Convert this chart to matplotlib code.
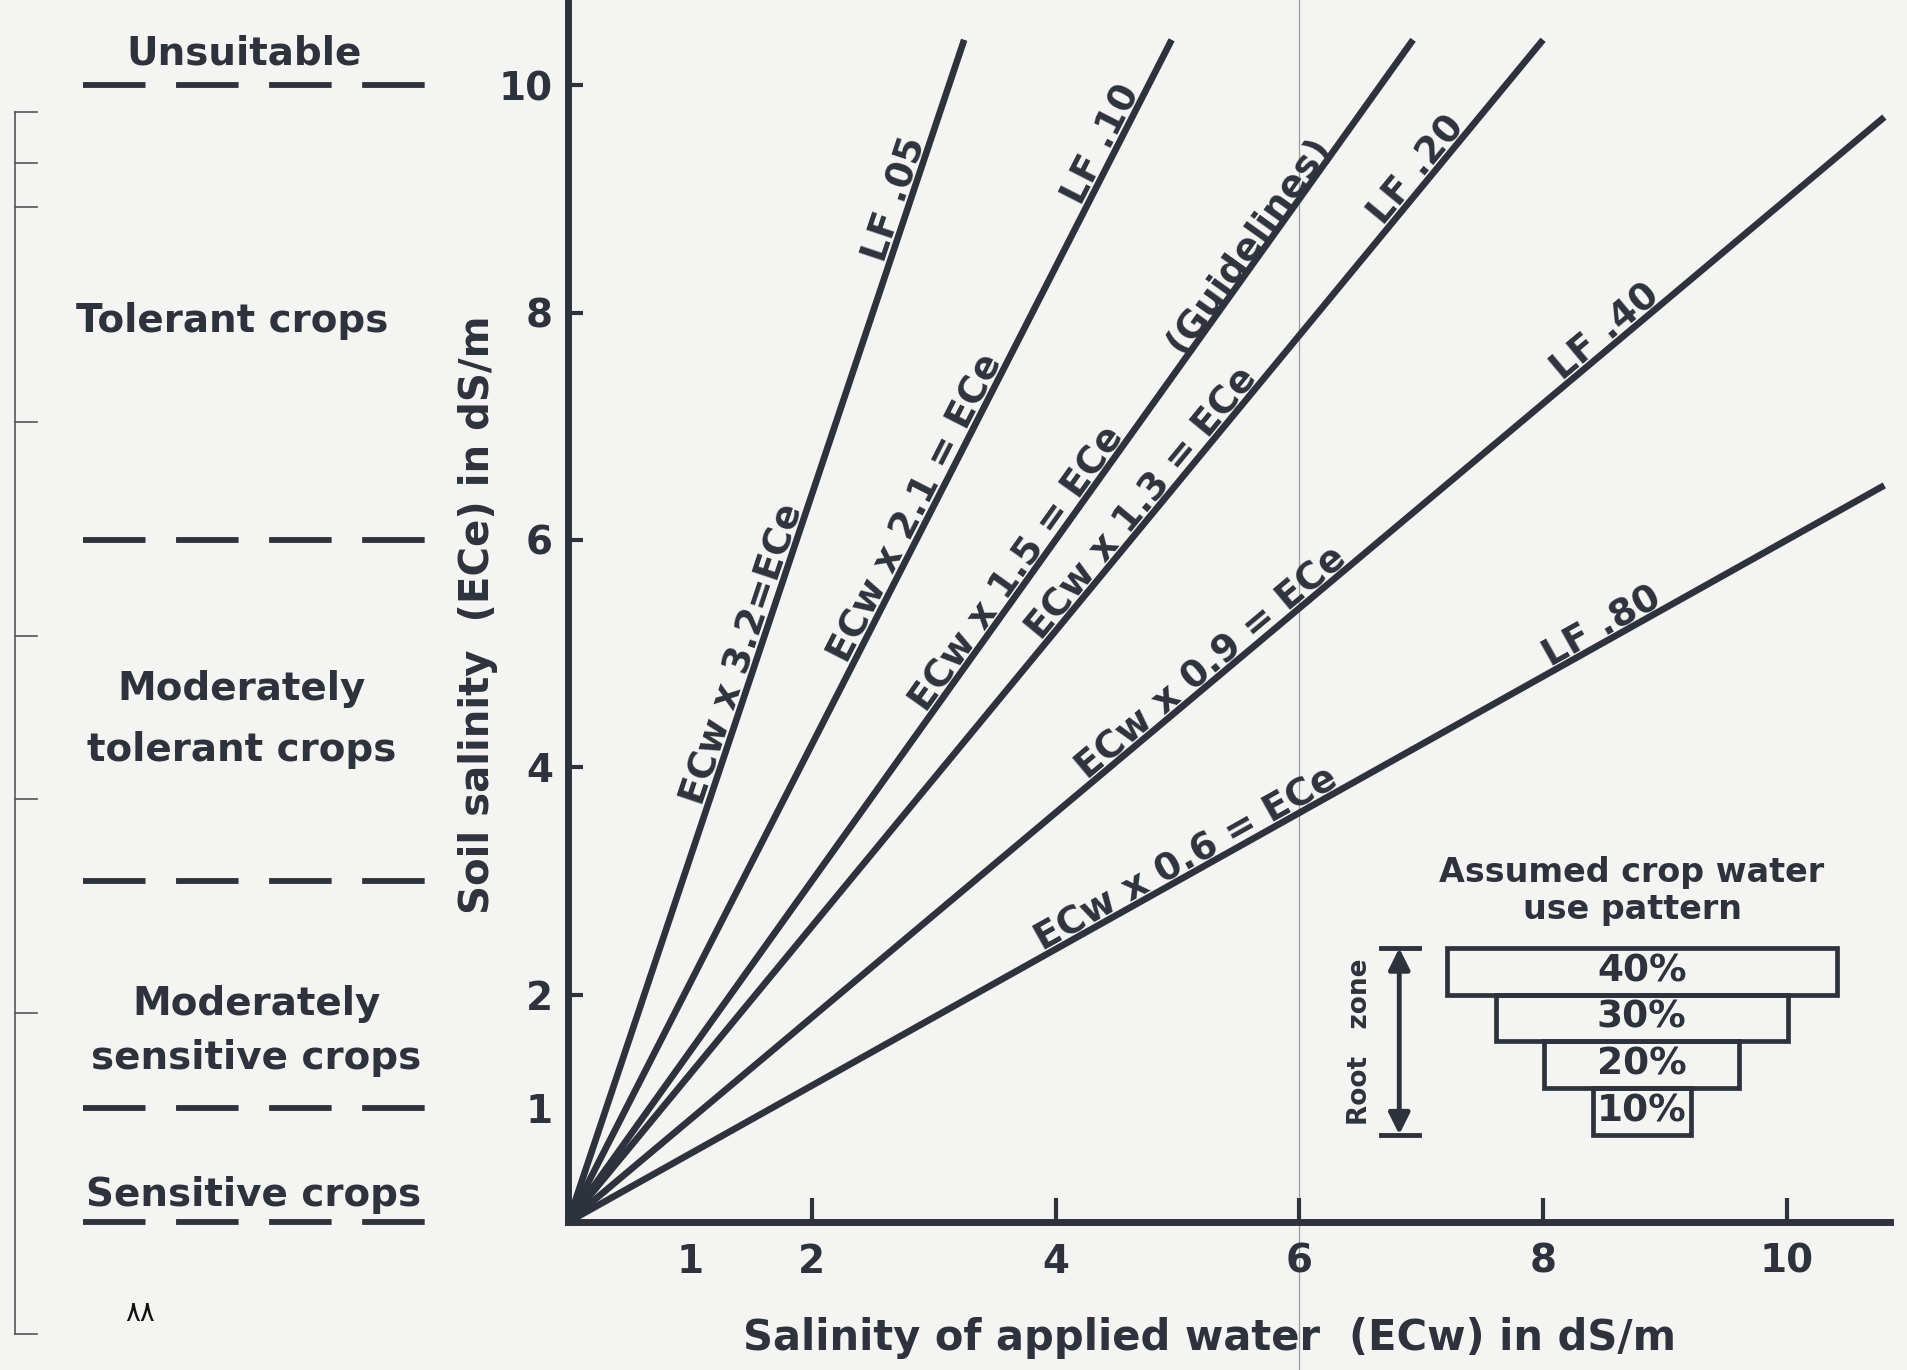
import numpy as np
import matplotlib
matplotlib.use("Agg")
import matplotlib.pyplot as plt
import matplotlib.transforms as mtransforms
from matplotlib.patches import Rectangle
from matplotlib.lines import Line2D

plt.rcParams["font.family"] = ["DejaVu Sans"]
plt.rcParams["font.weight"] = "bold"
plt.rcParams["lines.scale_dashes"] = False

INK = "#2e323c"
PAPER = "#f4f4f2"

# concentration factors ECe = k * ECw
factors = [3.2, 2.1, 1.5, 1.3, 0.9, 0.6]
eq_labels = ["ECw x 3.2=ECe", "ECw x 2.1 = ECe", "ECw x 1.5 = ECe",
             "ECw x 1.3 = ECe", "ECw x 0.9 = ECe", "ECw x 0.6 = ECe"]
lf_labels = ["LF .05", "LF .10", "(Guidelines)", "LF .20", "LF .40", "LF .80"]
# where each label sits, as a fraction of the line length
eq_label_t = [0.476, 0.598, 0.545, 0.600, 0.496, 0.475]
lf_label_t = [0.861, 0.906, 0.820, 0.882, 0.795, 0.791]
line_top = 10.4
line_right = 10.8

# crop tolerance zones (left panel)
zone_names = ["Unsuitable", "Tolerant crops", "Moderately\ntolerant crops",
              "Moderately\nsensitive crops", "Sensitive crops"]
zone_label_x = [-2.66, -2.76, -2.68, -2.56, -2.58]
zone_label_y = [10.28, 7.93, 4.42, 1.68, 0.24]
zone_spacing = [1.2, 1.2, 1.75, 1.54, 1.2]
zone_bounds = [10, 6, 3, 1, 0]

xticks = [2, 4, 6, 8, 10]
yticks = [2, 4, 6, 8, 10]

# assumed crop water use pattern (top to bottom of root zone)
use_pct = [40, 30, 20, 10]

fig = plt.figure(figsize=(19.07, 13.70), dpi=100, facecolor=PAPER)
ax = fig.add_axes([0.2979, 0.108, 0.6934, 0.892])
ax.set_facecolor("none")
ax.set_xlim(0, 10.85)
ax.set_ylim(0, 10.75)

for s in ["top", "right"]:
    ax.spines[s].set_visible(False)
for s in ["left", "bottom"]:
    ax.spines[s].set_linewidth(5)
    ax.spines[s].set_color(INK)

ax.set_xticks(xticks)
ax.set_xticklabels([str(t) for t in xticks])
ax.set_xticks([1], minor=True)
ax.set_xticklabels(["1"], minor=True)
ax.set_yticks(yticks)
ax.set_yticklabels([str(t) for t in yticks])
ax.set_yticks([1], minor=True)
ax.set_yticklabels(["1"], minor=True)
ax.tick_params(axis="x", which="major", direction="in", length=17, width=3,
               pad=15, labelsize=28, colors=INK)
ax.tick_params(axis="y", which="major", direction="in", length=11, width=3,
               pad=11, labelsize=28, colors=INK)
ax.tick_params(axis="x", which="minor", length=0, pad=15, labelsize=28, colors=INK)
ax.tick_params(axis="y", which="minor", length=0, pad=11, labelsize=28, colors=INK)

# faint fold line of the scanned page
fold = mtransforms.blended_transform_factory(ax.transData, fig.transFigure)
ax.plot([6, 6], [0, 1], transform=fold, color="#9c9c9c", lw=0.9, clip_on=False, zorder=0)


def screen_angle(k):
    p = ax.transData.transform([(0, 0), (1, k)])
    return np.degrees(np.arctan2(p[1, 1] - p[0, 1], p[1, 0] - p[0, 0]))


# salinity lines
gap = 3
for k, eq, lf, et, lt in zip(factors, eq_labels, lf_labels, eq_label_t, lf_label_t):
    x_end = min(line_top / k, line_right)
    xs = np.array([0, x_end])
    ax.plot(xs, k * xs, color=INK, lw=4.8, solid_capstyle="butt")
    ang = screen_angle(k)
    dx = -np.sin(np.radians(ang)) * gap
    dy = np.cos(np.radians(ang)) * gap
    for txt, t in [(eq, et), (lf, lt)]:
        x = t * x_end
        ax.annotate(txt, xy=(x, k * x), xytext=(dx, dy), textcoords="offset points",
                    rotation=ang, rotation_mode="anchor", ha="center",
                    va="baseline", fontsize=27, color=INK)

# left panel: crop tolerance zones
for b in zone_bounds:
    ax.plot([-3.98, -1.17], [b, b], color=INK, lw=4.2, dashes=(45, 22),
            dash_capstyle="butt", clip_on=False)
for name, x, y, ls in zip(zone_names, zone_label_x, zone_label_y, zone_spacing):
    ax.text(x, y, name, ha="center", va="center", fontsize=28, color=INK,
            linespacing=ls, clip_on=False)

# axis titles
ax.text(-0.068, 0.497, "Soil salinity  (ECe) in dS/m", transform=ax.transAxes,
        rotation=90, ha="center", va="center", fontsize=29, color=INK)
ax.text(0.485, -0.095, "Salinity of applied water  (ECw) in dS/m",
        transform=ax.transAxes, ha="center", va="center", fontsize=30, color=INK)

# inset: crop water use pattern
box_cx = 8.81
box_top = 2.41
box_h = 0.41
ax.text(8.73, 2.91, "Assumed crop water\nuse pattern", ha="center", va="center",
        fontsize=24, color=INK, linespacing=1.15)
for i, p in enumerate(use_pct):
    w = p * 0.08
    y0 = box_top - (i + 1) * box_h
    ax.add_patch(Rectangle((box_cx - w / 2, y0), w, box_h, fill=False,
                           edgecolor=INK, lw=3.4))
    ax.text(box_cx, y0 + box_h / 2, f"{p}%", ha="center", va="center",
            fontsize=27, color=INK)
root_bot = box_top - len(use_pct) * box_h
ax.annotate("", xy=(6.82, root_bot), xytext=(6.82, box_top),
            arrowprops=dict(arrowstyle="<|-|>", color=INK, lw=3.5,
                            mutation_scale=32, shrinkA=0, shrinkB=0))
ax.plot([6.67, 6.98], [box_top, box_top], color=INK, lw=3.5)
ax.plot([6.67, 6.98], [root_bot, root_bot], color=INK, lw=3.5)
ax.text(6.50, (box_top + root_bot) / 2, "Root   zone", rotation=90, ha="center",
        va="center", fontsize=19, color=INK)

# scan margin bracket and page number
W, H = 1907, 1370
bracket_y = [112, 163, 207, 422, 636, 799, 1013, 1334]
fig.add_artist(Line2D([15 / W, 15 / W], [1 - 112 / H, 1 - 1334 / H],
                      color="#555555", lw=1.2))
for yy in bracket_y:
    fig.add_artist(Line2D([15 / W, 37 / W], [1 - yy / H, 1 - yy / H],
                          color="#555555", lw=1.2))
fig.text(140 / W, 1 - 1313 / H, "\u0668\u0668", fontsize=20, color="#111111",
         ha="center", va="center", fontweight="normal")

fig.savefig("out.png", dpi=100, facecolor=PAPER)
